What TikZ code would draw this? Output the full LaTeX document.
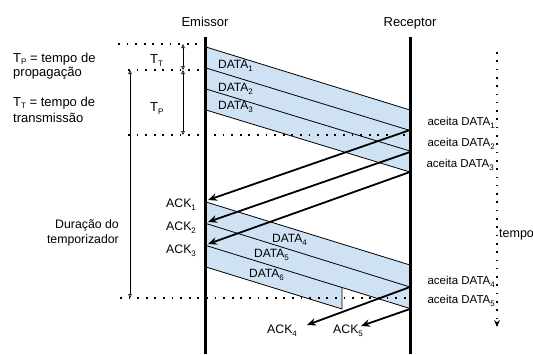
\documentclass[tikz,border=0pt]{standalone}
\usepackage{fontspec}
\setmainfont{Liberation Sans}
\usetikzlibrary{arrows.meta}
\definecolor{bandblue}{HTML}{CFE2F3}
\newcommand{\mysub}[1]{\raisebox{-3.5pt}{\fontsize{8}{9}\selectfont #1}}
\newcommand{\mysubl}[1]{\raisebox{-2.3pt}{\fontsize{8}{9}\selectfont #1}}
\begin{document}
\begin{tikzpicture}[x=1pt,y=-1pt,
  lifeline/.style={line width=3pt},
  thin line/.style={line width=0.8pt},
  dots/.style={line width=1.8pt, dash pattern=on 1.8pt off 6.8pt},
  tdots/.style={line width=1.6pt, dash pattern=on 1.6pt off 6.7pt},
  ackarrow/.style={line width=1.8pt, -{Stealth[length=9pt,width=7.5pt]}},
  dimarrow/.style={line width=0.6pt, {Triangle[open,length=4pt,width=3.5pt]}-{Triangle[open,length=4pt,width=3.5pt]}},
  txt/.style={inner sep=0pt, font=\fontsize{13}{15}\selectfont},
  dtxt/.style={inner sep=0pt, font=\fontsize{12}{14}\selectfont, anchor=base west},
  atxt/.style={inner sep=0pt, font=\fontsize{11.5}{14}\selectfont, anchor=base east},
  ktxt/.style={inner sep=0pt, font=\fontsize{12.3}{14}\selectfont, anchor=base west},
]
\useasboundingbox (0,0) rectangle (533,354);

% headers
\node[txt, anchor=base] (em) at (205,26) {Emissor};
\node[txt, anchor=base] (rc) at (410,26) {Receptor};

% band 1 (DATA1-3)
\coordinate (a0) at (206,47);  \coordinate (b0) at (410,110);
\coordinate (a1) at (206,68);  \coordinate (b1) at (410,130.5);
\coordinate (a2) at (206,89);  \coordinate (b2) at (410,151);
\coordinate (a3) at (206,110); \coordinate (b3) at (410,172);
\fill[bandblue] (a0) -- (b0) -- (b3) -- (a3) -- cycle;
\foreach \i in {0,1,2,3} \draw[thin line] (a\i) -- (b\i);

% band 2 (DATA4-6)
\coordinate (l0) at (206,202);   \coordinate (r0) at (410,265);
\coordinate (l1) at (206,223.5); \coordinate (r1) at (410,287);
\coordinate (l2) at (206,245.5); \coordinate (r2) at (410,308.5);
\coordinate (l3) at (206,267);
\coordinate (c1) at (342,287.5); \coordinate (c2) at (342,309);
\fill[bandblue] (l0) -- (r0) -- (r2) -- (c1) -- (c2) -- (l3) -- cycle;
\draw[thin line] (l0) -- (r0);
\draw[thin line] (l1) -- (r1);
\draw[thin line] (l2) -- (r2);
\draw[thin line] (l3) -- (c2) -- (c1);

% dotted guide lines
\coordinate (d1a) at (118,44);  \coordinate (d1b) at (205,44);
\coordinate (d2a) at (128,70);  \coordinate (d2b) at (205,70);
\coordinate (d3a) at (128,135); \coordinate (d3b) at (410,135);
\coordinate (d4a) at (120,298); \coordinate (d4b) at (410,298);
\draw[dots] (d1a) -- (d1b);
\draw[dots] (d2a) -- (d2b);
\draw[dots] (d3a) -- (d3b);
\draw[dots] (d4a) -- (d4b);

% dimension arrows
\coordinate (t1) at (183,44); \coordinate (t2) at (183,70); \coordinate (t3) at (183,135);
\draw[dimarrow] (t1) -- (t2);
\draw[dimarrow] (t2) -- (t3);
\coordinate (u1) at (130,70); \coordinate (u2) at (130,298);
\draw[dimarrow] (u1) -- (u2);

% ACK arrows
\coordinate (k1s) at (410,130); \coordinate (k1e) at (208,200);
\coordinate (k2s) at (410,152); \coordinate (k2e) at (208,222);
\coordinate (k3s) at (410,172); \coordinate (k3e) at (208,244);
\coordinate (k4s) at (410,287); \coordinate (k4e) at (307,325);
\coordinate (k5s) at (410,309); \coordinate (k5e) at (361,326);
\draw[ackarrow] (k1s) -- (k1e);
\draw[ackarrow] (k2s) -- (k2e);
\draw[ackarrow] (k3s) -- (k3e);
\draw[ackarrow] (k4s) -- (k4e);
\draw[ackarrow] (k5s) -- (k5e);

% lifelines
\coordinate (Etop) at (205,37); \coordinate (Ebot) at (205,354);
\coordinate (Rtop) at (410,37); \coordinate (Rbot) at (410,354);
\draw[lifeline] (Etop) -- (Ebot);
\draw[lifeline] (Rtop) -- (Rbot);

% time axis
\coordinate (ta) at (497,52); \coordinate (tb) at (497,327);
\draw[tdots, -{Stealth[length=7pt,width=6pt]}] (ta) -- (tb);
\node[txt, anchor=base west, font=\fontsize{12.5}{14}\selectfont] (tempo) at (499,237) {tempo};

% left legend
\node[txt, anchor=base west] (lp1) at (13,62.5) {T\mysubl{P} = tempo de};
\node[txt, anchor=base west] (lp2) at (13,76.5) {propagação};
\node[txt, anchor=base west] (lt1) at (13,106.5) {T\mysubl{T} = tempo de};
\node[txt, anchor=base west] (lt2) at (13,122) {transmissão};
\node[txt, anchor=base west] (tt) at (150,63) {T\mysub{T}};
\node[txt, anchor=base west] (tp) at (150,111) {T\mysub{P}};
\node[inner sep=0pt, font=\fontsize{12.3}{14}\selectfont, anchor=base east] (dur1) at (119,228) {Duração do};
\node[inner sep=0pt, font=\fontsize{12.3}{14}\selectfont, anchor=base east] (dur2) at (119,243) {temporizador};

% DATA labels
\node[dtxt] (D1) at (218,68) {DATA\mysub{1}};
\node[dtxt] (D2) at (218,91) {DATA\mysub{2}};
\node[dtxt] (D3) at (218,109) {DATA\mysub{3}};
\node[dtxt] (D4) at (272,242) {DATA\mysub{4}};
\node[dtxt] (D5) at (254,257) {DATA\mysub{5}};
\node[dtxt] (D6) at (249,277) {DATA\mysub{6}};

% aceita labels
\node[atxt] (A1) at (495,125) {aceita DATA\mysub{1}};
\node[atxt] (A2) at (495,146) {aceita DATA\mysub{2}};
\node[atxt] (A3) at (494,167) {aceita DATA\mysub{3}};
\node[atxt] (A4) at (495,284) {aceita DATA\mysub{4}};
\node[atxt] (A5) at (495,303) {aceita DATA\mysub{5}};

% ACK labels
\node[ktxt] (K1) at (166,207) {ACK\mysub{1}};
\node[ktxt] (K2) at (166,230) {ACK\mysub{2}};
\node[ktxt] (K3) at (166,253) {ACK\mysub{3}};
\node[ktxt] (K4) at (267,333) {ACK\mysub{4}};
\node[ktxt] (K5) at (333,333) {ACK\mysub{5}};
\end{tikzpicture}
\end{document}
